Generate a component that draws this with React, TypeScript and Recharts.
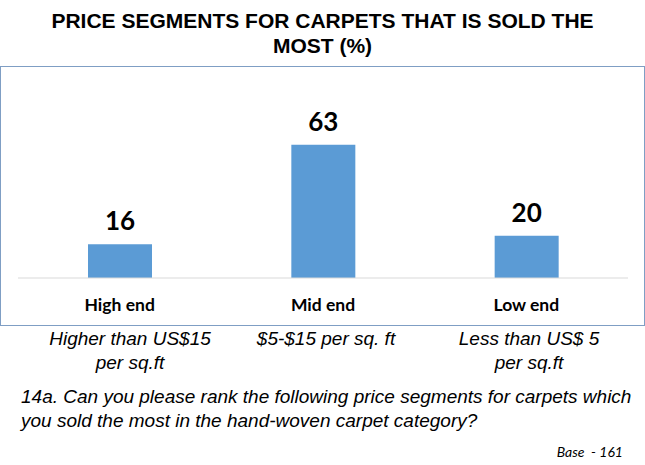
import React from "react";
import { BarChart, Bar, XAxis, YAxis, LabelList } from "recharts";

// data
const segments = ["High end", "Mid end", "Low end"];
const shares = [16, 63, 20];
const priceNotes = [
  ["Higher than US$15", "per sq.ft"],
  ["$5-$15 per sq. ft"],
  ["Less than US$ 5", "per sq.ft"],
];
const noteCenters = [130, 326, 529];

const rows = segments.map((name, i) => ({ name, value: shares[i] }));

const CategoryTick = (props: any) => {
  const { x, y, payload } = props;
  return (
    <text
      x={x}
      y={y + 26}
      textAnchor="middle"
      dominantBaseline="central"
      fontFamily="Lato, sans-serif"
      fontWeight="bold"
      fontSize={17.5}
      fill="#000"
    >
      {payload.value}
    </text>
  );
};

export default function App() {
  return (
    <div
      style={{
        position: "absolute",
        left: 0,
        top: 0,
        width: 645,
        height: 465,
        background: "#fff",
        overflow: "hidden",
      }}
    >
      <div
        style={{
          position: "absolute",
          left: 0,
          top: 8,
          width: 645,
          textAlign: "center",
          fontFamily: "'Liberation Sans', Arial, sans-serif",
          fontWeight: "bold",
          fontSize: 21,
          lineHeight: "25px",
        }}
      >
        PRICE SEGMENTS FOR CARPETS THAT IS SOLD THE
        <br />
        MOST (%)
      </div>

      <div
        style={{
          position: "absolute",
          left: 0,
          top: 66,
          width: 643,
          height: 258,
          border: "1.5px solid #7f9ec4",
        }}
      />

      <div style={{ position: "absolute", left: 0, top: 66 }}>
        <BarChart
          width={645}
          height={260}
          data={rows}
          margin={{ top: 64, right: 17, bottom: 0, left: 18 }}
          barSize={64}
        >
          <XAxis
            dataKey="name"
            height={48}
            axisLine={{ stroke: "#d9d9d9" }}
            tickLine={false}
            tickSize={0}
            tickMargin={0}
            tick={<CategoryTick />}
            interval={0}
          />
          <YAxis hide domain={[0, 70]} />
          <Bar dataKey="value" fill="#5b9bd5" isAnimationActive={false}>
            <LabelList
              dataKey="value"
              position="top"
              offset={14}
              fill="#000"
              fontFamily="Lato, sans-serif"
              fontWeight="bold"
              fontSize={26}
            />
          </Bar>
        </BarChart>
      </div>

      {priceNotes.map((lines, i) => (
        <div
          key={i}
          style={{
            position: "absolute",
            left: noteCenters[i] - 110,
            top: 327,
            width: 220,
            textAlign: "center",
            fontFamily: "'Liberation Sans', Arial, sans-serif",
            fontStyle: "italic",
            fontSize: 19,
            lineHeight: "24px",
            color: "#000",
          }}
        >
          {lines.map((l, j) => (
            <div key={j}>{l}</div>
          ))}
        </div>
      ))}

      <div
        style={{
          position: "absolute",
          left: 21,
          top: 385,
          width: 624,
          fontFamily: "'Liberation Sans', Arial, sans-serif",
          fontStyle: "italic",
          fontSize: 19,
          lineHeight: "24px",
          color: "#000",
          whiteSpace: "nowrap",
        }}
      >
        14a. Can you please rank the following price segments for carpets which
        <br />
        you sold the most in the hand-woven carpet category?
      </div>

      <div
        style={{
          position: "absolute",
          right: 22,
          top: 443,
          fontFamily: "Lato, sans-serif",
          fontStyle: "italic",
          fontSize: 14,
          color: "#000",
          whiteSpace: "pre",
        }}
      >
        Base  - 161
      </div>
    </div>
  );
}
